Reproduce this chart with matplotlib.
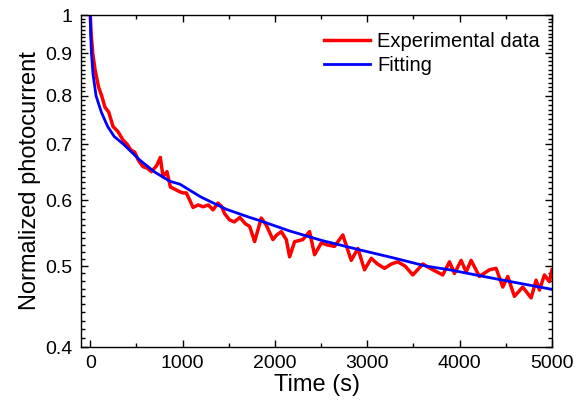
import matplotlib.pyplot as plt
import numpy as np
from matplotlib.ticker import MultipleLocator, FixedLocator

plt.rcParams['font.family'] = ['Liberation Sans', 'DejaVu Sans']

# experimental photocurrent decay
t_exp = [0, 10, 27, 52, 90, 124, 160, 200, 247, 300, 355, 400, 440, 481, 520, 571,
         620, 662, 720, 759, 788, 831, 868, 920, 968, 1004, 1040, 1077, 1113, 1170,
         1221, 1280, 1329, 1383, 1420, 1455, 1509, 1560, 1620, 1680, 1726, 1780, 1852,
         1906, 1978, 2020, 2069, 2123, 2159, 2213, 2302, 2375, 2429, 2502, 2570, 2645,
         2735, 2826, 2898, 2970, 3043, 3110, 3187, 3260, 3330, 3410, 3493, 3601, 3709,
         3817, 3890, 3944, 4016, 4070, 4124, 4214, 4323, 4395, 4467, 4521, 4593, 4683,
         4774, 4828, 4864, 4918, 4972, 5000]
i_exp = [1.00, 0.95, 0.90, 0.86, 0.82, 0.80, 0.775, 0.765, 0.735, 0.725, 0.708, 0.70,
         0.689, 0.685, 0.670, 0.658, 0.655, 0.649, 0.660, 0.675, 0.640, 0.649, 0.622,
         0.618, 0.614, 0.612, 0.612, 0.600, 0.588, 0.592, 0.589, 0.592, 0.584, 0.595,
         0.590, 0.578, 0.568, 0.565, 0.572, 0.562, 0.558, 0.535, 0.571, 0.560, 0.538,
         0.545, 0.550, 0.538, 0.513, 0.535, 0.538, 0.550, 0.516, 0.533, 0.530, 0.528,
         0.545, 0.508, 0.525, 0.495, 0.511, 0.503, 0.497, 0.503, 0.506, 0.500, 0.488,
         0.503, 0.495, 0.488, 0.506, 0.490, 0.508, 0.492, 0.508, 0.486, 0.495, 0.497,
         0.472, 0.486, 0.460, 0.472, 0.458, 0.481, 0.468, 0.488, 0.479, 0.495]

# fitted curve
t_fit = [0, 5, 13, 30, 63, 120, 189, 260, 360, 537, 700, 862, 970, 1200, 1473, 1726,
         1836, 2159, 2500, 2917, 3300, 3638, 3890, 4300, 4600, 5000]
i_fit = [1.02, 0.95, 0.90, 0.85, 0.80, 0.765, 0.735, 0.715, 0.70, 0.670, 0.648, 0.632,
         0.627, 0.605, 0.585, 0.572, 0.567, 0.551, 0.537, 0.523, 0.511, 0.500, 0.495,
         0.485, 0.478, 0.469]

y_ticks = [0.4, 0.5, 0.6, 0.7, 0.8, 0.9, 1.0]
y_labels = ['0.4', '0.5', '0.6', '0.7', '0.8', '0.9', '1']

fig = plt.figure(figsize=(5.84, 4.05), dpi=100)
ax = fig.add_axes([81/584, 58/405, 471/584, 332/405])

ax.plot(t_exp, i_exp, color='#ff0000', lw=2.5, label='Experimental data')
ax.plot(t_fit, i_fit, color='#0000ff', lw=2.0, label='Fitting')

ax.set_yscale('log')
ax.set_xlim(-100, 5000)
ax.set_ylim(0.4, 1.0)

ax.yaxis.set_major_locator(FixedLocator(y_ticks))
ax.set_yticklabels(y_labels)
ax.yaxis.set_minor_locator(FixedLocator(np.round(np.arange(0.41, 1.0, 0.01), 2)))
ax.yaxis.set_minor_formatter(plt.NullFormatter())
ax.xaxis.set_major_locator(MultipleLocator(1000))
ax.xaxis.set_minor_locator(MultipleLocator(500))

ax.tick_params(which='both', direction='in', top=True, right=True, labelsize=14, width=1)
ax.tick_params(which='major', length=5, pad=6)
ax.tick_params(which='minor', length=3)
for s in ax.spines.values():
    s.set_linewidth(1)

ax.set_xlabel('Time (s)', fontsize=17, labelpad=1)
ax.set_ylabel('Normalized photocurrent', fontsize=17, labelpad=3)

ax.legend(loc='upper right', bbox_to_anchor=(1.0, 0.985), frameon=False,
          fontsize=14.5, handlelength=2.3, handletextpad=0.35, labelspacing=0.25,
          borderaxespad=0.2)

fig.savefig('out.png', dpi=100)
